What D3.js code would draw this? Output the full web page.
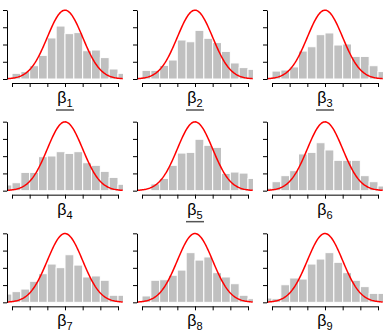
<!DOCTYPE html>
<html>
<head>
<meta charset="utf-8">
<script src="https://cdn.jsdelivr.net/npm/d3@7"></script>
<style>
  body { margin: 0; background: #fff; }
  svg { display: block; }
</style>
</head>
<body>
<script>
//Width and height
var w = 390;
var h = 335;
var cellW = w / 3;
var cellH = h / 3;

//Histogram bins (left edges, width 0.5) and densities per panel
var binStarts = [-3.5, -3, -2.5, -2, -1.5, -1, -0.5, 0, 0.5, 1, 1.5, 2, 2.5, 3];
var binWidth = 0.5;

var beta1 = [0, 0.033, 0.043, 0.077, 0.137, 0.238, 0.307, 0.263, 0.269, 0.164, 0.168, 0.124, 0.058, 0.033];
var beta2 = [0, 0.05, 0.05, 0.079, 0.11, 0.226, 0.216, 0.282, 0.236, 0.211, 0.16, 0.093, 0.066, 0.056];
var beta3 = [0, 0.046, 0.052, 0.07, 0.162, 0.187, 0.257, 0.267, 0.197, 0.203, 0.131, 0.131, 0.077, 0.043];
var beta4 = [0.033, 0.046, 0.106, 0.106, 0.197, 0.201, 0.226, 0.216, 0.226, 0.162, 0.147, 0.112, 0.077, 0.037];
var beta5 = [0, 0, 0.039, 0.071, 0.147, 0.218, 0.222, 0.298, 0.263, 0.251, 0.1, 0.108, 0.102, 0.071];
var beta6 = [0.015, 0.052, 0.087, 0.116, 0.213, 0.222, 0.278, 0.236, 0.176, 0.176, 0.176, 0.087, 0.052, 0.027];
var beta7 = [0.048, 0.062, 0.077, 0.122, 0.166, 0.222, 0.201, 0.276, 0.216, 0.147, 0.153, 0.128, 0.041, 0.041];
var beta8 = [0, 0.037, 0.128, 0.131, 0.157, 0.187, 0.288, 0.245, 0.263, 0.172, 0.147, 0.108, 0.041, 0.021];
var beta9 = [0.025, 0.021, 0.102, 0.141, 0.135, 0.222, 0.251, 0.288, 0.232, 0.172, 0.128, 0.091, 0.052, 0.052];

var panels = [beta1, beta2, beta3, beta4, beta5, beta6, beta7, beta8, beta9];
var subscripts = ["1", "2", "3", "4", "5", "6", "7", "8", "9"];
var underlined = [true, true, true, false, true, false, false, false, false];

//Reference normal curve (mean, sd)
var curveMean = 0;
var curveSd = 1;

var xTicks = [-3, -2, -1, 0, 1, 2, 3];
var yTicks = [0, 0.1, 0.2, 0.3, 0.4];

//Scales (inside one cell)
var xScale = d3.scaleLinear().domain([-3, 3]).range([12, 118]);
var yScale = d3.scaleLinear().domain([0, 0.4]).range([79, 10]);
var plotLeft = 7;
var plotRight = 123;

//Create SVG element
var svg = d3.select("body").append("svg").attr("width", w).attr("height", h);

svg
  .append("defs")
  .append("clipPath")
  .attr("id", "plotclip")
  .append("rect")
  .attr("x", plotLeft)
  .attr("y", 0)
  .attr("width", plotRight - plotLeft)
  .attr("height", 81);

var curveXs = d3.range(xScale.invert(plotLeft), xScale.invert(plotRight) + 0.01, 0.05);

var line = d3
  .line()
  .x(function (d) {
    return xScale(d);
  })
  .y(function (d) {
    var z = (d - curveMean) / curveSd;
    return yScale(Math.exp(-0.5 * z * z) / (curveSd * Math.sqrt(2 * Math.PI)));
  });

var cells = svg
  .selectAll("g.cell")
  .data(panels)
  .enter()
  .append("g")
  .attr("class", "cell")
  .attr("transform", function (d, i) {
    return "translate(" + (i % 3) * cellW + "," + Math.floor(i / 3) * cellH + ")";
  });

cells.each(function (dens, i) {
  var g = d3.select(this);
  var plot = g.append("g").attr("clip-path", "url(#plotclip)");

  //Create bars
  plot
    .selectAll("rect")
    .data(
      dens
        .map(function (d, j) {
          return { x0: binStarts[j], v: d };
        })
        .filter(function (d) {
          return d.v > 0;
        })
    )
    .enter()
    .append("rect")
    .attr("x", function (d) {
      return xScale(d.x0);
    })
    .attr("y", function (d) {
      return yScale(d.v);
    })
    .attr("width", function (d) {
      return xScale(d.x0 + binWidth) - xScale(d.x0);
    })
    .attr("height", function (d) {
      return yScale(0) - yScale(d.v);
    })
    .attr("fill", "#c0c0c0")
    .attr("stroke", "#fff")
    .attr("stroke-width", 1);

  //Normal curve
  plot
    .append("path")
    .datum(curveXs)
    .attr("d", line)
    .attr("fill", "none")
    .attr("stroke", "#ff0000")
    .attr("stroke-width", 1.5);

  //Axes
  g.append("g")
    .attr("transform", "translate(" + plotLeft + ",0)")
    .call(d3.axisLeft(yScale).tickValues(yTicks).tickSize(4).tickSizeOuter(0).tickFormat(""));

  g.append("g")
    .attr("transform", "translate(0,83)")
    .call(d3.axisBottom(xScale).tickValues(xTicks).tickSize(4).tickSizeOuter(0).tickFormat(""));

  //Label
  var label = g
    .append("text")
    .attr("x", xScale(0))
    .attr("y", 103)
    .attr("text-anchor", "middle")
    .attr("font-family", "'Liberation Sans', Arial, sans-serif")
    .attr("font-size", "16px")
    .attr("fill", "#000");
  label.append("tspan").text("β");
  label
    .append("tspan")
    .attr("font-size", "11px")
    .attr("dy", 4)
    .text(subscripts[i]);

  if (underlined[i]) {
    g.append("line")
      .attr("x1", xScale(0) - 9)
      .attr("x2", xScale(0) + 9)
      .attr("y1", 110)
      .attr("y2", 110)
      .attr("stroke", "#555")
      .attr("stroke-width", 1.5);
  }
});
</script>
</body>
</html>
